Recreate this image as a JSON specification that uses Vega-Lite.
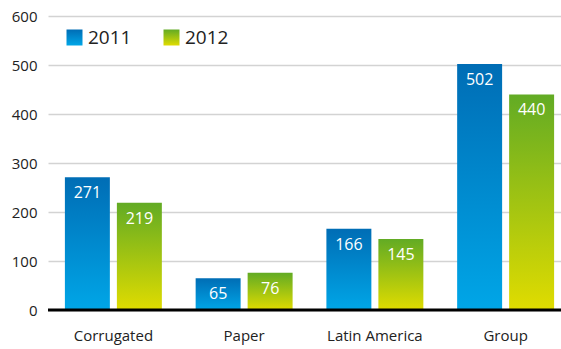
{
  "$schema": "https://vega.github.io/schema/vega-lite/v6.json",
  "width": 513,
  "height": 294,
  "autosize": {"type": "none"},
  "padding": {"left": 48, "top": 16, "right": 0, "bottom": 39},
  "background": "white",
  "config": {
    "view": {"stroke": null},
    "font": "Open Sans",
    "axis": {"labelFont": "Open Sans", "labelColor": "#222222"},
    "legend": {
      "title": null, "orient": "none", "legendY": 12,
      "symbolType": "square", "symbolSize": 256, "symbolStrokeWidth": 0, "symbolOpacity": 1,
      "labelFontSize": 19, "labelFont": "Open Sans", "labelColor": "#222222", "labelOffset": 4
    }
  },
  "data": {
    "values": [
      {"cat": "Corrugated", "year": "2011", "v": 271},
      {"cat": "Corrugated", "year": "2012", "v": 219},
      {"cat": "Paper", "year": "2011", "v": 65},
      {"cat": "Paper", "year": "2012", "v": 76},
      {"cat": "Latin America", "year": "2011", "v": 166},
      {"cat": "Latin America", "year": "2012", "v": 145},
      {"cat": "Group", "year": "2011", "v": 502},
      {"cat": "Group", "year": "2012", "v": 440}
    ]
  },
  "encoding": {
    "x": {
      "field": "cat", "type": "nominal", "sort": null,
      "scale": {"range": [0, 523], "paddingInner": 0, "paddingOuter": 0},
      "axis": {"title": null, "domain": false, "ticks": false, "labelAngle": 0, "labelFontSize": 15, "labelPadding": 18}
    },
    "xOffset": {
      "field": "year", "type": "nominal",
      "scale": {"paddingInner": 0.135, "paddingOuter": 0.325}
    },
    "y": {
      "field": "v", "type": "quantitative",
      "scale": {"domain": [0, 600], "nice": false},
      "axis": {"title": null, "domain": false, "ticks": false, "values": [0, 100, 200, 300, 400, 500, 600], "labelFontSize": 15, "labelPadding": 11, "gridColor": "#d3d3d3", "gridWidth": 1.6}
    }
  },
  "resolve": {"scale": {"shape": "independent"}, "legend": {"shape": "independent"}},
  "layer": [
    {
      "mark": {"type": "bar"},
      "encoding": {
        "color": {
          "condition": {
            "test": "datum.year === '2011'",
            "value": {"gradient": "linear", "x1": 0, "y1": 0, "x2": 0, "y2": 1, "stops": [{"offset": 0, "color": "#006db5"}, {"offset": 1, "color": "#00a6e7"}]}
          },
          "value": {"gradient": "linear", "x1": 0, "y1": 0, "x2": 0, "y2": 1, "stops": [{"offset": 0, "color": "#62ab24"}, {"offset": 1, "color": "#e0dc00"}]}
        }
      }
    },
    {
      "transform": [{"filter": "datum.year === '2011'"}],
      "mark": {"type": "point", "opacity": 0, "filled": true,
        "color": {"gradient": "linear", "x1": 0, "y1": 0, "x2": 0, "y2": 1, "stops": [{"offset": 0, "color": "#006db5"}, {"offset": 1, "color": "#00a6e7"}]}},
      "encoding": {
        "shape": {
          "field": "year", "type": "nominal",
          "scale": {"range": ["square"]},
          "legend": {"legendX": 17}
        }
      }
    },
    {
      "transform": [{"filter": "datum.year === '2012'"}],
      "mark": {"type": "point", "opacity": 0, "filled": true,
        "color": {"gradient": "linear", "x1": 0, "y1": 0, "x2": 0, "y2": 1, "stops": [{"offset": 0, "color": "#62ab24"}, {"offset": 1, "color": "#e0dc00"}]}},
      "encoding": {
        "shape": {
          "field": "year", "type": "nominal",
          "scale": {"range": ["square"]},
          "legend": {"legendX": 114}
        }
      }
    },
    {
      "mark": {"type": "text", "baseline": "top", "dy": 8, "color": "white", "fontSize": 16},
      "encoding": {"text": {"field": "v", "type": "quantitative"}}
    },
    {
      "data": {"values": [{"z": 0}]},
      "mark": {"type": "rule", "color": "black", "strokeWidth": 3},
      "encoding": {"y": {"field": "z", "type": "quantitative"}, "x": {"value": 0}, "x2": {"value": 513}, "xOffset": null}
    }
  ]
}
